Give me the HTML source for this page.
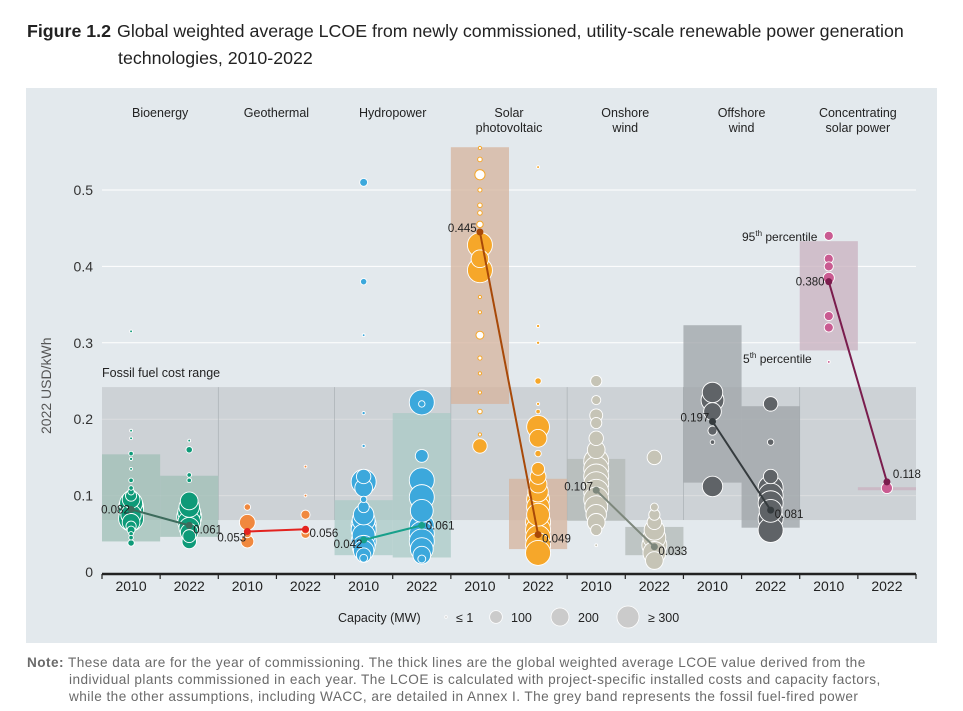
<!DOCTYPE html>
<html><head><meta charset="utf-8">
<style>
body{margin:0;width:963px;height:711px;overflow:hidden;background:#fff;font-family:"Liberation Sans",sans-serif;}
#title{position:absolute;left:27px;top:18px;font-size:17.8px;line-height:27px;color:#222;width:930px;font-family:"Liberation Sans",sans-serif;}
#title b{font-weight:bold;margin-right:6px}
#title .t2{padding-left:91px;display:block}
#note{position:absolute;left:27px;top:654px;font-size:13.6px;letter-spacing:0.45px;line-height:17px;color:#6a6a6a;width:930px;white-space:nowrap}
#note b{color:#6a6a6a}
#note .ind{padding-left:42px;display:block}
</style></head><body>
<div id="title"><b>Figure 1.2</b>Global weighted average LCOE from newly commissioned, utility-scale renewable power generation<span class="t2">technologies, 2010-2022</span></div>
<svg id="chart" width="963" height="711" style="position:absolute;left:0;top:0"></svg>
<div id="note"><b>Note:</b> These data are for the year of commissioning. The thick lines are the global weighted average LCOE value derived from the<span class="ind">individual plants commissioned in each year. The LCOE is calculated with project-specific installed costs and capacity factors,</span><span class="ind">while the other assumptions, including WACC, are detailed in Annex I. The grey band represents the fossil fuel-fired power</span></div>
<script>
const techs=["Bioenergy","Geothermal","Hydropower","Solar|photovoltaic","Onshore|wind","Offshore|wind","Concentrating|solar power"];
const years=["2010","2022"];
const yTicks=[0,0.1,0.2,0.3,0.4,0.5];
const yTickLabels=["0","0.1","0.2","0.3","0.4","0.5"];
const colors=["#0e9a78","#f0883e","#3ca8dc","#f6a72a","#c6c4b6","#5f6367","#c95b91"];
const lineColors=["#3d6b5c","#e3231f","#17a08b","#a84908","#7d877c","#353b3e","#7a1c4d"];
const boxColors=["#9fbfb6","#9fbfb6","#a9cac5","#d5b39c","#b2b8b6","#9ea3a7","#c9b0bf"];
const avg2010=[0.082,0.053,0.042,0.445,0.107,0.197,0.380];
const avg2022=[0.061,0.056,0.061,0.049,0.033,0.081,0.118];
const p5_2010=[0.040,null,0.022,0.220,0.067,0.117,0.290];
const p95_2010=[0.154,null,0.094,0.556,0.148,0.323,0.433];
const p5_2022=[0.046,null,0.019,0.030,0.022,0.058,0.107];
const p95_2022=[0.126,null,0.208,0.122,0.059,0.217,0.111];
const fossilRange=[0.068,0.242];
// [LCOE, capacity MW]
const bio2010=[[0.315,1],[0.185,1],[0.175,1],[0.155,10],[0.148,5],[0.135,2],[0.12,10],[0.11,10],[0.105,20],[0.1,60],[0.095,150],[0.09,250],[0.085,300],[0.08,300],[0.075,200],[0.07,300],[0.065,150],[0.06,50],[0.055,30],[0.05,10],[0.045,10],[0.038,20]];
const bio2022=[[0.172,2],[0.16,20],[0.127,10],[0.12,10],[0.093,150],[0.085,200],[0.078,250],[0.072,300],[0.065,250],[0.058,200],[0.052,150],[0.047,80],[0.04,100]];
const geo2010=[[0.085,20],[0.065,120],[0.05,30],[0.04,80]];
const geo2022=[[0.138,1],[0.1,1],[0.075,40],[0.055,30],[0.05,40]];
const hyd2010=[[0.51,30],[0.38,20],[0.31,1],[0.208,5],[0.165,5],[0.125,100],[0.118,300],[0.11,150],[0.095,20],[0.085,60],[0.075,200],[0.068,250],[0.062,300],[0.055,300],[0.048,250],[0.04,300],[0.033,250],[0.028,200],[0.022,100],[0.018,30]];
const hyd2022=[[0.222,300],[0.22,20],[0.152,80],[0.12,300],[0.098,300],[0.08,250],[0.06,300],[0.05,300],[0.04,300],[0.03,250],[0.022,150],[0.017,30]];
const pv2010=[[0.555,5],[0.54,10],[0.52,50],[0.5,8],[0.48,10],[0.47,10],[0.455,20],[0.428,300],[0.41,150],[0.395,300],[0.36,5],[0.34,5],[0.31,30],[0.28,8],[0.26,5],[0.235,5],[0.21,10],[0.18,5],[0.165,100]];
const pv2022=[[0.53,1],[0.322,5],[0.3,5],[0.25,20],[0.22,5],[0.21,10],[0.19,250],[0.175,150],[0.155,20],[0.135,80],[0.125,120],[0.115,150],[0.105,200],[0.095,250],[0.085,250],[0.075,250],[0.065,300],[0.055,300],[0.045,300],[0.035,300],[0.025,300]];
const on2010=[[0.25,60],[0.225,40],[0.205,80],[0.195,60],[0.175,100],[0.16,150],[0.145,300],[0.135,300],[0.125,300],[0.115,300],[0.105,300],[0.095,300],[0.085,250],[0.075,200],[0.065,150],[0.055,60],[0.035,2]];
const on2022=[[0.15,100],[0.085,30],[0.075,60],[0.065,100],[0.055,200],[0.045,250],[0.035,300],[0.025,250],[0.015,150]];
const off2010=[[0.235,200],[0.225,250],[0.21,150],[0.185,40],[0.17,10],[0.112,200]];
const off2022=[[0.22,100],[0.17,20],[0.125,100],[0.11,300],[0.1,300],[0.09,300],[0.08,250],[0.07,300],[0.055,300]];
const csp2010=[[0.44,40],[0.41,40],[0.4,40],[0.385,60],[0.335,40],[0.32,40],[0.275,1]];
const csp2022=[[0.11,60]];
const bubbles=[bio2010,bio2022,geo2010,geo2022,hyd2010,hyd2022,pv2010,pv2022,on2010,on2022,off2010,off2022,csp2010,csp2022];
const legendCaps=[1,100,200,300];
const legendLabels=["≤ 1","100","200","≥ 300"];

const NS="http://www.w3.org/2000/svg";
const svg=document.getElementById('chart');
const X0=102,X1=916,colW=(X1-X0)/14;
const yS=v=>572-v*764;
const xC=i=>X0+colW*(i+0.5);
const rS=c=>Math.max(1.4,Math.sqrt(Math.min(c,300)/300)*12.5);
function el(t,a,p){const e=document.createElementNS(NS,t);for(const k in a)e.setAttribute(k,a[k]);(p||svg).appendChild(e);return e;}
function txt(x,y,s,a){const e=el('text',Object.assign({x:x,y:y,'font-size':12,fill:'#222'},a||{}));e.textContent=s;return e;}

const bg=el('rect',{x:26,y:88,width:911,height:555,fill:'#e3e9ed'});


yTicks.forEach((v,i)=>{
  if(i>0){const g=el('line',{x1:X0,x2:X1,y1:yS(v),y2:yS(v),stroke:'#fff','stroke-width':1});
  
  }
  const t=txt(93,yS(v)+5,yTickLabels[i],{'text-anchor':'end','font-size':14,fill:'#333'});
  
  
});
const fb=el('rect',{x:X0,y:yS(fossilRange[1]),width:X1-X0,height:yS(fossilRange[0])-yS(fossilRange[1]),fill:'#b7bcc0','fill-opacity':0.5});


for(let k=1;k<7;k++){const d=el('line',{x1:X0+colW*2*k,x2:X0+colW*2*k,y1:yS(fossilRange[1]),y2:yS(fossilRange[0]),stroke:'#aab0b4','stroke-width':0.7});

}
const ft=txt(X0,377,"Fossil fuel cost range",{'font-size':12.5});


for(let t=0;t<7;t++){
  [[p5_2010,p95_2010,0],[p5_2022,p95_2022,1]].forEach(([lo,hi,j])=>{
    if(lo[t]==null)return;
    const b=el('rect',{x:X0+colW*(2*t+j),y:yS(hi[t]),width:colW,height:Math.max(2,yS(lo[t])-yS(hi[t])),fill:boxColors[t],'fill-opacity':0.75});
    
    
  });
}
bubbles.forEach((arr,i)=>{
  const t=Math.floor(i/2);
  arr.slice().sort((a,b)=>b[1]-a[1]).forEach(([v,c])=>{
    const small=(i==6&&c<60);
    const b=el('circle',{cx:xC(i),cy:yS(v),r:rS(c),fill:small?'#fff':colors[t],stroke:small?colors[t]:'#fff','stroke-width':small?1:0.9});
    
    
  });
});
const labOff=[[-30,4,4,4],[-30,10,4,4],[-30,8,4,0],[-32,0,4,4],[-32,0,4,4],[-32,0,4,4],[-33,4,6,-8]];
for(let t=0;t<7;t++){
  const x1=xC(2*t),x2=xC(2*t+1),y1=yS(avg2010[t]),y2=yS(avg2022[t]);
  const l=el('line',{x1:x1,y1:y1,x2:x2,y2:y2,stroke:lineColors[t],'stroke-width':2});
  
  
  [[x1,y1],[x2,y2]].forEach(([x,y])=>{const d=el('circle',{cx:x,cy:y,r:3.5,fill:lineColors[t]});
  
  });
  const o=labOff[t];
  const a=txt(x1+o[0],y1+o[1],avg2010[t].toFixed(3),{'font-size':11.5});
  
  
  const b=txt(x2+o[2],y2+o[3]+4,avg2022[t].toFixed(3),{'font-size':11.5});
  
  
}
const ax=el('line',{x1:X0,x2:X1,y1:574,y2:574,stroke:'#222','stroke-width':2.5});


for(let i=0;i<=14;i++){const tk=el('line',{x1:X0+colW*i,x2:X0+colW*i,y1:574,y2:579,stroke:'#222','stroke-width':1.2});

}
for(let i=0;i<14;i++){const t=txt(xC(i),591,years[i%2],{'text-anchor':'middle','font-size':14,fill:'#222'});

}
techs.forEach((n,t)=>{
  const parts=n.split('|');
  parts.forEach((p,k)=>{const h=txt(X0+colW*(2*t+1),117+k*15,p,{'text-anchor':'middle','font-size':12.5});
  
  });
});
const yt=txt(0,0,"2022 USD/kWh",{'font-size':14,fill:'#555',transform:'translate(51,434) rotate(-90)'});


const p95=el('text',{x:742,y:241,'font-size':12,fill:'#222'});p95.innerHTML='95<tspan font-size="8" dy="-5">th</tspan><tspan dy="5"> percentile</tspan>';


const p5=el('text',{x:743,y:363,'font-size':12,fill:'#222'});p5.innerHTML='5<tspan font-size="8" dy="-5">th</tspan><tspan dy="5"> percentile</tspan>';


const lt=txt(338,622,"Capacity (MW)",{'font-size':12.5});


const lx=[446,496,560,628],ltx=[456,511,578,648];
legendCaps.forEach((c,i)=>{
  const r=c<=1?1.3:Math.sqrt(c/300)*11;
  const g=el('circle',{cx:lx[i],cy:617,r:r,fill:'#cbcbcb',stroke:'#fff','stroke-width':0.8});
  
  
  const t=txt(ltx[i],622,legendLabels[i],{'font-size':12.5});
  
  
});
</script>
</body></html>
